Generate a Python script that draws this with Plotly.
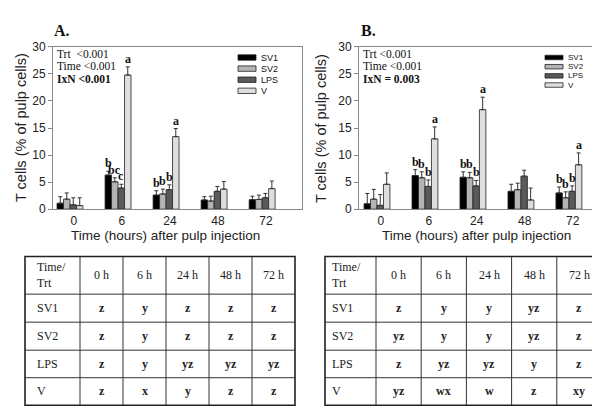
import plotly.graph_objects as go

W, H = 600, 411

times = ["0", "6", "24", "48", "72"]
treatments = ["SV1", "SV2", "LPS", "V"]
colors = ["#000000", "#b4b4b4", "#5a5a5a", "#dedede"]

# panel A: mean and upper SE, one list per treatment
a_sv1 = [1.1, 6.3, 2.6, 1.7, 1.75]
a_sv2 = [1.85, 5.05, 2.8, 1.5, 1.8]
a_lps = [0.8, 3.9, 3.6, 3.3, 2.1]
a_v = [0.65, 24.8, 13.4, 3.7, 3.8]
a_sv1_se = [1.2, 0.7, 0.8, 0.6, 0.65]
a_sv2_se = [1.15, 0.75, 0.9, 0.9, 0.8]
a_lps_se = [1.3, 0.7, 0.9, 0.9, 0.8]
a_v_se = [1.45, 1.5, 1.5, 1.4, 1.4]
a_sv1_let = ["", "b", "b", "", ""]
a_sv2_let = ["", "bc", "b", "", ""]
a_lps_let = ["", "c", "b", "", ""]
a_v_let = ["", "a", "a", "", ""]
a_stats = ["Trt  <0.001", "Time <0.001", "<b>IxN <0.001</b>"]

# panel B
b_sv1 = [1.0, 6.2, 5.9, 3.3, 3.0]
b_sv2 = [1.85, 5.8, 5.8, 3.6, 2.1]
b_lps = [0.7, 4.2, 4.3, 6.1, 3.3]
b_v = [4.6, 13.0, 18.4, 1.7, 8.2]
b_sv1_se = [1.9, 1.1, 1.0, 1.3, 1.1]
b_sv2_se = [1.8, 1.1, 1.0, 1.2, 1.1]
b_lps_se = [2.0, 1.2, 1.0, 1.1, 1.0]
b_v_se = [2.1, 2.2, 2.3, 2.2, 2.2]
b_sv1_let = ["", "b", "b", "", "b"]
b_sv2_let = ["", "b", "b", "", "b"]
b_lps_let = ["", "b", "b", "", "b"]
b_v_let = ["", "a", "a", "", "a"]
b_stats = ["Trt <0.001", "Time <0.001", "<b>IxN = 0.003</b>"]

# tables of letters (rows = treatment, cols = time)
table_corner = "Time/<br>Trt"
table_head = ["0 h", "6 h", "24 h", "48 h", "72 h"]
a_table = [
    ["z", "y", "z", "z", "z"],
    ["z", "y", "z", "z", "z"],
    ["z", "y", "yz", "yz", "yz"],
    ["z", "x", "y", "z", "z"],
]
b_table = [
    ["z", "y", "y", "yz", "z"],
    ["yz", "y", "y", "yz", "z"],
    ["z", "yz", "yz", "y", "z"],
    ["yz", "wx", "w", "z", "xy"],
]

BARGAP = 0.46
SANS = "Liberation Sans"
SERIF = "Liberation Serif"
ROW_H = [39, 29, 29, 28.5, 28.5]   # header + 4 rows, in px
TABLE_TOP = 250

fig = go.Figure()
annots = []
shapes = []


def fx(p):
    return p / W


def fy(p):
    return 1 - p / H


def label(x, y, text, font, **kw):
    # paper-anchored text, positions in pixels from top-left
    d = dict(x=fx(x), y=fy(y), xref="paper", yref="paper", text=text,
             showarrow=False, xanchor="center", yanchor="middle", font=font)
    d.update(kw)
    annots.append(d)


def line(x0, y0, x1, y1, width=1):
    shapes.append(dict(type="line", xref="paper", yref="paper",
                       x0=fx(x0), y0=fy(y0), x1=fx(x1), y1=fy(y1),
                       line=dict(color="#333", width=width)))


def draw_table(table, left, colw, pad):
    edges_x = [left]
    for c in colw:
        edges_x.append(edges_x[-1] + c)
    edges_y = [TABLE_TOP]
    for r in ROW_H:
        edges_y.append(edges_y[-1] + r)
    for ex in edges_x[1:-1]:
        line(ex, edges_y[0], ex, edges_y[-1])
    for ey in edges_y[1:-1]:
        line(edges_x[0], ey, edges_x[-1], ey)
    shapes.append(dict(type="rect", xref="paper", yref="paper",
                       x0=fx(edges_x[0]), x1=fx(edges_x[-1]),
                       y0=fy(edges_y[-1]), y1=fy(edges_y[0]),
                       line=dict(color="#222", width=1.6)))

    font = dict(family=SERIF, size=12, color="#222")
    cy = [(edges_y[k] + edges_y[k + 1]) / 2 for k in range(len(ROW_H))]
    cx = [(edges_x[k] + edges_x[k + 1]) / 2 for k in range(len(colw))]
    label(left + pad, cy[0], table_corner, font, xanchor="left", align="left")
    for c, h in enumerate(table_head):
        label(cx[c + 1], cy[0], h, font)
    for r, trt in enumerate(treatments):
        label(left + pad, cy[r + 1], trt, font, xanchor="left")
        for c in range(len(times)):
            label(cx[c + 1], cy[r + 1], "<b>" + table[r][c] + "</b>", font)


def panel(n, letter, means, ses, lets, stats, table, cfg):
    xa, ya = ("x", "y") if n == 1 else ("x2", "y2")
    idx = list(range(len(times)))
    w = (1 - BARGAP) / len(treatments)
    for i, trt in enumerate(treatments):
        fig.add_trace(go.Bar(
            x=idx, y=means[i], name=trt, xaxis=xa, yaxis=ya,
            marker=dict(color=colors[i], line=dict(color="#222", width=0.8)),
            error_y=dict(type="data", symmetric=False, array=ses[i],
                         arrayminus=[0] * len(times), color="#333",
                         thickness=1, width=2),
            showlegend=False,
        ))
        off = (i - 1.5) * w
        for j in idx:
            if lets[i][j]:
                annots.append(dict(
                    x=j + off, y=means[i][j] + ses[i][j], xref=xa, yref=ya,
                    text="<b>" + lets[i][j] + "</b>", showarrow=False,
                    yanchor="bottom", yshift=-1,
                    font=dict(family=SERIF, size=12, color="#111")))
        # hand-made legend, the swatches are flat bars as in the original
        yy = cfg["leg_y"] + i * cfg["leg_step"]
        shapes.append(dict(type="rect", xref="paper", yref="paper",
                           x0=fx(cfg["leg_x"]), x1=fx(cfg["leg_x"] + 18),
                           y0=fy(yy + cfg["leg_h"]), y1=fy(yy - cfg["leg_h"]),
                           fillcolor=colors[i], line=dict(color="#222", width=0.8)))
        label(cfg["leg_x"] + 21, yy, trt,
              dict(family=SANS, size=cfg["leg_font"], color="#111"), xanchor="left")

    for k, s in enumerate(stats):
        label(cfg["stat_x"], 40 + 13 * k, s, dict(family=SERIF, size=11.5, color="#111"),
              xanchor="left")

    label(cfg["title_x"], 16, "<b>" + letter + "</b>",
          dict(family=SERIF, size=16, color="#111"), xanchor="left")
    label(cfg["ytitle_x"], 117, "T cells (% of pulp cells)",
          dict(family=SANS, size=14.5, color="#222"), textangle=-90)
    label(cfg["xtitle_x"], 228, "Time (hours) after pulp injection",
          dict(family=SANS, size=13.5, color="#222"))

    axis_style = dict(showline=True, mirror=True, linecolor="#888", linewidth=1,
                      showgrid=False, zeroline=False,
                      tickfont=dict(family=SANS, size=12, color="#222"))
    fig.update_layout({
        ("xaxis" if n == 1 else "xaxis2"): dict(
            domain=[fx(cfg["x0"]), fx(cfg["x1"])], range=cfg["xrange"],
            tickvals=[j + 0.08 for j in idx], ticktext=times, ticks="",
            anchor=ya, **axis_style),
        ("yaxis" if n == 1 else "yaxis2"): dict(
            domain=[fy(201), fy(33)], range=[0, 30], tickvals=list(range(0, 31, 5)),
            ticks="outside", ticklen=4, tickcolor="#888", anchor=xa, **axis_style),
    })

    draw_table(table, cfg["t0"], cfg["colw"], cfg["pad"])


panel(1, "A.", [a_sv1, a_sv2, a_lps, a_v], [a_sv1_se, a_sv2_se, a_lps_se, a_v_se],
      [a_sv1_let, a_sv2_let, a_lps_let, a_v_let], a_stats, a_table,
      dict(x0=45, x1=294, xrange=[-0.354, 4.83], leg_x=230, leg_y=44, leg_step=11.5,
           leg_h=2.8, leg_font=9, stat_x=47, title_x=44, ytitle_x=13, xtitle_x=158,
           t0=17, colw=[55, 43, 43, 43, 43, 43], pad=10))
panel(2, "B.", [b_sv1, b_sv2, b_lps, b_v], [b_sv1_se, b_sv2_se, b_lps_se, b_v_se],
      [b_sv1_let, b_sv2_let, b_lps_let, b_v_let], b_stats, b_table,
      dict(x0=351, x1=594, xrange=[-0.375, 4.69], leg_x=537, leg_y=44, leg_step=9.5,
           leg_h=2.3, leg_font=8, stat_x=353, title_x=351, ytitle_x=313, xtitle_x=468,
           t0=317, colw=[51, 45.2, 45.2, 45.2, 45.2, 45.2], pad=5))

fig.update_layout(
    width=W, height=H, margin=dict(l=0, r=0, t=0, b=0),
    paper_bgcolor="white", plot_bgcolor="white",
    barmode="group", bargap=BARGAP, bargroupgap=0,
    annotations=annots, shapes=shapes,
)

fig.write_html("out.html")
